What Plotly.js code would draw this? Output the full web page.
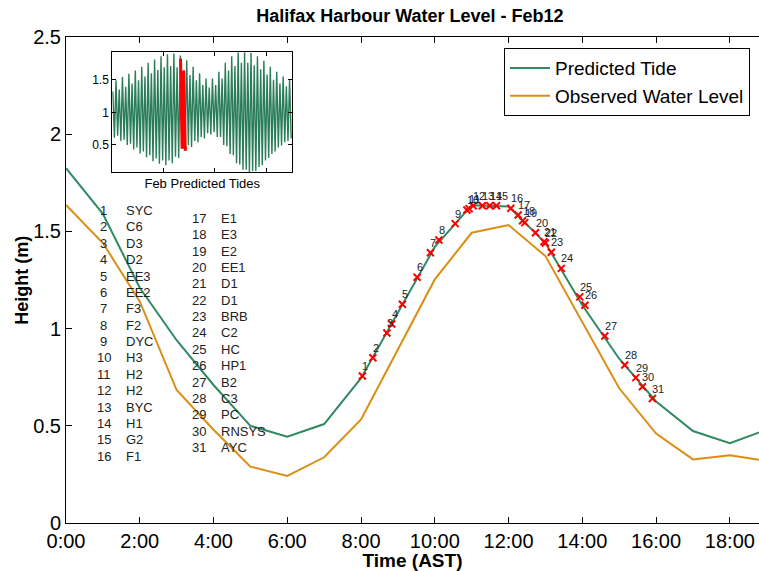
<!DOCTYPE html>
<html>
<head>
<meta charset="utf-8">
<script src="https://cdn.plot.ly/plotly-3.0.1.min.js"></script>
<style>html,body{margin:0;padding:0;background:#fff;}#chart{width:759px;height:571px;}</style>
</head>
<body>
<div id="chart"></div>
<script>
// ---- Main series (hourly, Feb 12) ----
const hours = [0,1,2,3,4,5,6,7,8,9,10,11,12,13,14,15,16,17,18,19];
const predictedTide = [1.825,1.59,1.21,0.94,0.71,0.50,0.444,0.509,0.745,1.08,1.42,1.635,1.628,1.44,1.12,0.845,0.625,0.473,0.41,0.48];
const observedLevel = [1.636,1.44,1.14,0.684,0.48,0.29,0.242,0.338,0.533,0.89,1.253,1.493,1.533,1.373,1.03,0.693,0.46,0.327,0.348,0.32];
const xTickValues = [0,2,4,6,8,10,12,14,16,18];
const xTickLabels = ['0:00','2:00','4:00','6:00','8:00','10:00','12:00','14:00','16:00','18:00'];
const yTickValues = [0,0.5,1,1.5,2,2.5];
const yTickLabels = ['0','0.5','1','1.5','2','2.5'];

// ---- Sampling stations ----
const stationIds = [1,2,3,4,5,6,7,8,9,10,11,12,13,14,15,16,17,18,19,20,21,22,23,24,25,26,27,28,29,30,31];
const stationNames = ['SYC','C6','D3','D2','EE3','EE2','F3','F2','DYC','H3','H2','H2','BYC','H1','G2','F1',
                      'E1','E3','E2','EE1','D1','D1','BRB','C2','HC','HP1','B2','C3','PC','RNSYS','AYC'];
const stationTimes = [8.035,8.32,8.70,8.83,9.12,9.52,9.88,10.11,10.55,10.87,10.93,11.04,11.29,11.49,11.67,12.06,
                      12.26,12.38,12.44,12.73,12.96,13.0,13.16,13.43,13.93,14.07,14.61,15.15,15.45,15.63,15.90];
const stationHeights = [0.756,0.850,0.977,1.024,1.125,1.264,1.39,1.456,1.54,1.61,1.617,1.632,1.632,1.632,1.632,1.619,
                        1.584,1.555,1.545,1.493,1.447,1.44,1.393,1.31,1.163,1.12,0.962,0.813,0.748,0.701,0.64];

// ---- Inset: February predicted tide extremes (high, then following low) ----
const insetHigh = [1.32,1.49,1.35,1.54,1.39,1.59,1.44,1.64,1.49,1.70,1.55,1.76,1.60,1.81,1.65,1.86,1.69,1.89,1.71,1.90,
                   1.69,1.87,1.64,1.80,1.57,1.70,1.49,1.60,1.42,1.52,1.38,1.52,1.42,1.62,1.52,1.76,1.64,1.86,1.71,1.92,
                   1.76,1.93,1.76,1.91,1.72,1.86,1.66,1.79,1.58,1.70,1.50,1.62,1.44,1.55,1.40,1.50];
const insetLow = [0.61,0.64,0.56,0.58,0.50,0.52,0.43,0.46,0.37,0.40,0.31,0.34,0.25,0.29,0.21,0.26,0.19,0.26,0.22,0.32,
                  0.30,0.44,0.41,0.50,0.47,0.56,0.54,0.62,0.60,0.68,0.66,0.70,0.62,0.62,0.50,0.48,0.36,0.34,0.22,0.20,
                  0.12,0.12,0.07,0.10,0.10,0.16,0.19,0.26,0.30,0.36,0.40,0.46,0.49,0.54,0.56,0.60];
const febDays = 29;
const highlightDay = 11; // Feb 12 (days after Feb 1)

const GREEN = '#2f8a62';
const ORANGE = '#db8e14';
const FONT = 'Arial, "Liberation Sans", sans-serif';

// build inset series
const firstHigh = 0.095, tidePeriod = 0.5175;
const insetX = [], insetY = [];
for (let i = 0; i < insetHigh.length; i++) {
  insetX.push(firstHigh + i * tidePeriod); insetY.push(insetHigh[i]);
  insetX.push(firstHigh + i * tidePeriod + tidePeriod / 2); insetY.push(insetLow[i]);
}
const redX = hours.map(h => highlightDay + h / 24);

const traces = [
  {x: hours, y: predictedTide, type: 'scatter', mode: 'lines', name: 'Predicted Tide',
   line: {color: GREEN, width: 2}, xaxis: 'x', yaxis: 'y'},
  {x: hours, y: observedLevel, type: 'scatter', mode: 'lines', name: 'Observed Water Level',
   line: {color: ORANGE, width: 2}, xaxis: 'x', yaxis: 'y'},
  {x: stationTimes, y: stationHeights, type: 'scatter', mode: 'markers', showlegend: false,
   marker: {symbol: 'x-thin', size: 7, color: '#ff0000', line: {color: '#ff0000', width: 2}},
   xaxis: 'x', yaxis: 'y', hoverinfo: 'skip'},
  {x: insetX, y: insetY, type: 'scatter', mode: 'lines', showlegend: false,
   line: {color: '#2a7d59', width: 1.4}, xaxis: 'x2', yaxis: 'y2'},
  {x: redX, y: predictedTide, type: 'scatter', mode: 'lines', showlegend: false,
   line: {color: '#ff0000', width: 3}, xaxis: 'x2', yaxis: 'y2'}
];

const annotations = [];
// station labels near markers
stationIds.forEach((id, i) => {
  annotations.push({x: stationTimes[i], y: stationHeights[i], xref: 'x', yref: 'y', text: String(id),
    showarrow: false, xanchor: 'left', yanchor: 'middle', xshift: -2, yshift: 10,
    font: {family: FONT, size: 11, color: '#222'}});
});
// station list
const rowStep = 0.0842;
stationIds.forEach((id, i) => {
  const col = i < 16 ? 0 : 1;
  const row = col === 0 ? i : i - 16;
  const yTop = col === 0 ? 1.607 : 1.567;
  const numX = col === 0 ? 1.017 : 3.608;
  const nameX = col === 0 ? 1.574 : 4.151;
  const yv = yTop - row * rowStep;
  annotations.push({x: numX, y: yv, xref: 'x', yref: 'y', text: String(id), showarrow: false,
    xanchor: 'center', yanchor: 'middle', font: {family: FONT, size: 13, color: '#222'}});
  annotations.push({x: nameX, y: yv, xref: 'x', yref: 'y', text: stationNames[i], showarrow: false,
    xanchor: 'left', yanchor: 'middle', font: {family: FONT, size: 13, color: '#222'}});
});
// y-axis title placed as annotation
annotations.push({x: -0.064, y: 0.5, xref: 'paper', yref: 'paper', text: '<b>Height (m)</b>', textangle: -90,
  showarrow: false, xanchor: 'center', yanchor: 'middle', font: {family: FONT, size: 18, color: '#000'}});

const layout = {
  width: 759, height: 571,
  margin: {l: 66, r: 0, t: 37, b: 48, pad: 0},
  paper_bgcolor: '#fff', plot_bgcolor: '#fff',
  font: {family: FONT, color: '#000'},
  showlegend: true,
  title: {text: '<b>Halifax Harbour Water Level - Feb12</b>', font: {family: FONT, size: 18, color: '#000'},
          x: 0.54, xanchor: 'center', y: 0.972, yanchor: 'middle'},
  xaxis: {domain: [0, 1], range: [0, 18.79], tickvals: xTickValues, ticktext: xTickLabels,
          ticks: 'inside', ticklen: 6, tickcolor: '#000', showline: true, linecolor: '#000', linewidth: 1,
          mirror: 'ticks', showgrid: false, zeroline: false, tickfont: {family: FONT, size: 20, color: '#000'},
          title: {text: '<b>Time (AST)</b>', font: {family: FONT, size: 19, color: '#000'}, standoff: 2}},
  yaxis: {domain: [0, 1], range: [0, 2.5], tickvals: yTickValues, ticktext: yTickLabels,
          ticks: 'inside', ticklen: 6, tickcolor: '#000', showline: true, linecolor: '#000', linewidth: 1,
          mirror: false, showgrid: false, zeroline: false, tickfont: {family: FONT, size: 20, color: '#000'}},
  xaxis2: {domain: [0.0667, 0.3266], anchor: 'y2', range: [0, febDays], tickvals: [8.2, 16.5, 24.9],
           showticklabels: false, ticks: 'inside', ticklen: 4, tickcolor: '#000', showline: true,
           linecolor: '#000', linewidth: 1, mirror: 'ticks', showgrid: false, zeroline: false,
           title: {text: 'Feb Predicted Tides', font: {family: FONT, size: 13, color: '#000'}, standoff: 6}},
  yaxis2: {domain: [0.7216, 0.9685], anchor: 'x2', range: [0.08, 1.92], tickvals: [0.5, 1, 1.5],
           ticktext: ['0.5', '1', '1.5'], ticks: 'inside', ticklen: 4, tickcolor: '#000', showline: true,
           linecolor: '#000', linewidth: 1, mirror: 'ticks', showgrid: false, zeroline: false,
           tickfont: {family: FONT, size: 12, color: '#000'}},
  legend: {x: 0.987, xanchor: 'right', y: 0.977, yanchor: 'top', bordercolor: '#000', borderwidth: 1,
           bgcolor: '#fff', font: {family: FONT, size: 19, color: '#000'}, itemwidth: 40, tracegroupgap: 0},
  annotations: annotations
};

Plotly.newPlot('chart', traces, layout, {displayModeBar: false, staticPlot: true});
</script>
</body>
</html>
